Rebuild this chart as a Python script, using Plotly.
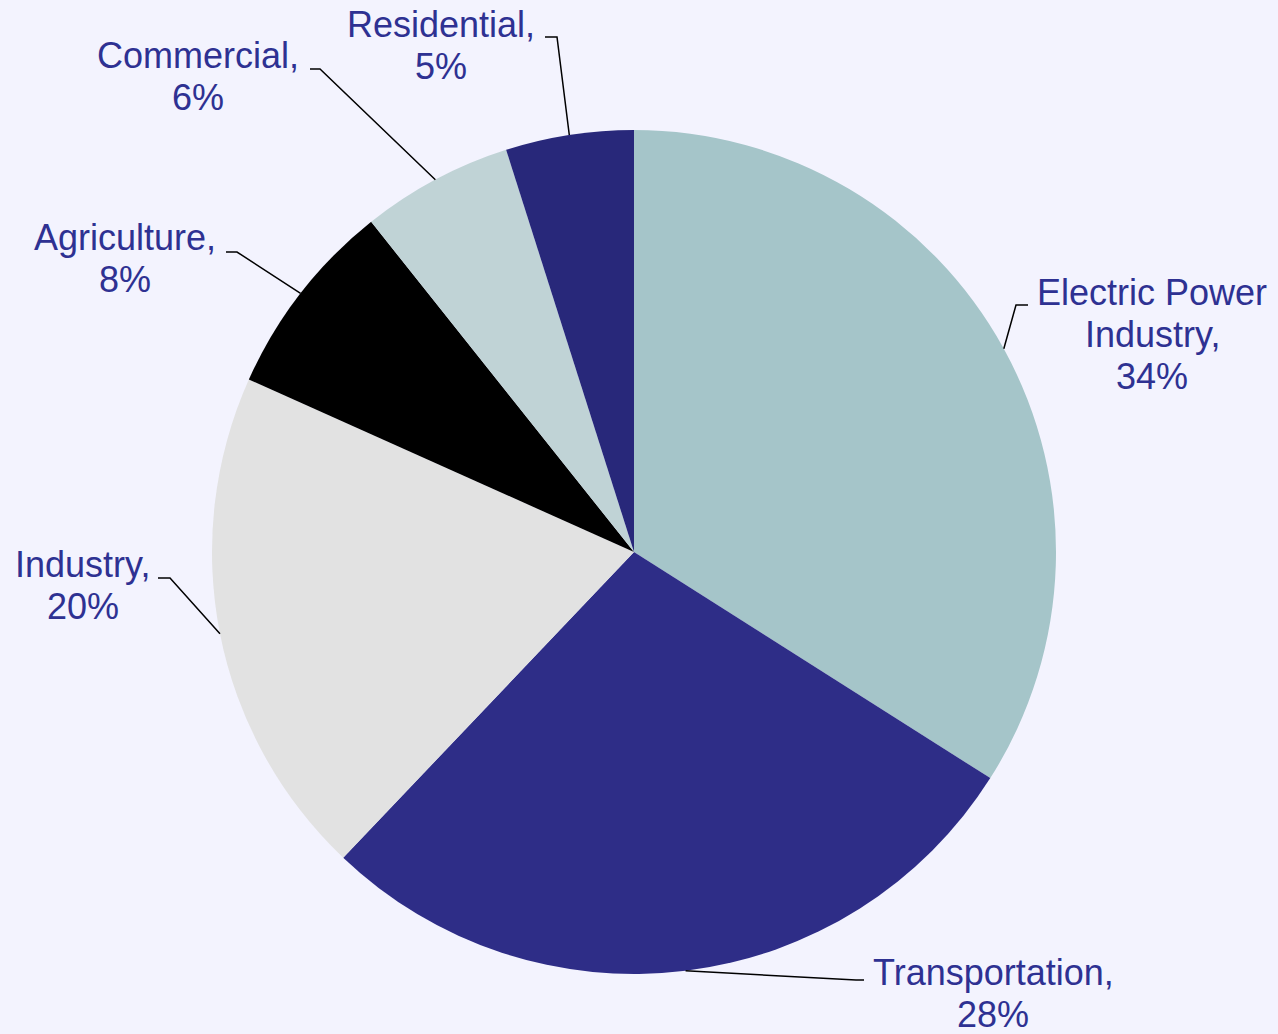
import math
import plotly.graph_objects as go

# ---- data ----
sectors = ["Electric Power Industry", "Transportation", "Industry",
           "Agriculture", "Commercial", "Residential"]
shares = [34.0, 28.1, 19.6, 7.6, 5.8, 4.9]
colors = ["#A5C5C9", "#2E2D87", "#E2E2E2", "#000000", "#C0D3D6", "#28287A"]
label_lines = [["Electric Power", "Industry,"], ["Transportation,"], ["Industry,"],
               ["Agriculture,"], ["Commercial,"], ["Residential,"]]

# ---- layout constants (pixels) ----
W, H = 1278, 1034
CX, CY, R = 634, 552, 422
FS = 36
LH = 42
TXT = "#2E3192"
BG = "#F3F3FE"
# per label: text centre x, first baseline y, elbow point, line end point
label_pos = [
    (1152, 305, (1016, 305), (1028, 305)),
    (993, 985, (856, 980), (864, 980)),
    (83, 577, (170, 578), (158, 578)),
    (125, 250, (237, 252), (226, 252)),
    (198, 68, (320, 69), (310, 69)),
    (441, 37, (557, 37), (545, 37)),
]

def px(x):
    return x / W

def py(y):
    return 1 - y / H

fig = go.Figure(go.Pie(
    labels=sectors, values=shares, sort=False, direction="clockwise",
    rotation=0, marker=dict(colors=colors, line=dict(width=0)),
    textinfo="none", hoverinfo="label+percent", showlegend=False,
    domain=dict(x=[px(CX - R), px(CX + R)], y=[py(CY + R), py(CY - R)]),
))

total = sum(shares)
cum = 0.0
shapes, annotations = [], []
for name, v, lines, (tx, by, elbow, end) in zip(sectors, shares, label_lines, label_pos):
    mid = (cum + v / 2) / total * 2 * math.pi
    cum += v
    ex = CX + R * math.sin(mid)
    ey = CY - R * math.cos(mid)
    path = f"M {px(ex)},{py(ey)} L {px(elbow[0])},{py(elbow[1])} L {px(end[0])},{py(end[1])}"
    shapes.append(dict(type="path", path=path, xref="paper", yref="paper",
                       line=dict(color="black", width=1.5)))
    pct = f"{round(v / total * 100)}%"
    all_lines = lines + [pct]
    for i, t in enumerate(all_lines):
        base = by + i * LH
        annotations.append(dict(
            x=px(tx), y=py(base - 0.36 * FS), xref="paper", yref="paper",
            text=t, showarrow=False, xanchor="center", yanchor="middle",
            font=dict(family="Liberation Sans, Arial, sans-serif", size=FS, color=TXT),
        ))

fig.update_layout(
    width=W, height=H, margin=dict(l=0, r=0, t=0, b=0),
    paper_bgcolor=BG, plot_bgcolor=BG,
    shapes=shapes, annotations=annotations,
)
fig.write_html("out.html", config={"displayModeBar": False},
               post_script="document.body.style.margin='0';document.body.style.background='" + BG + "';")
